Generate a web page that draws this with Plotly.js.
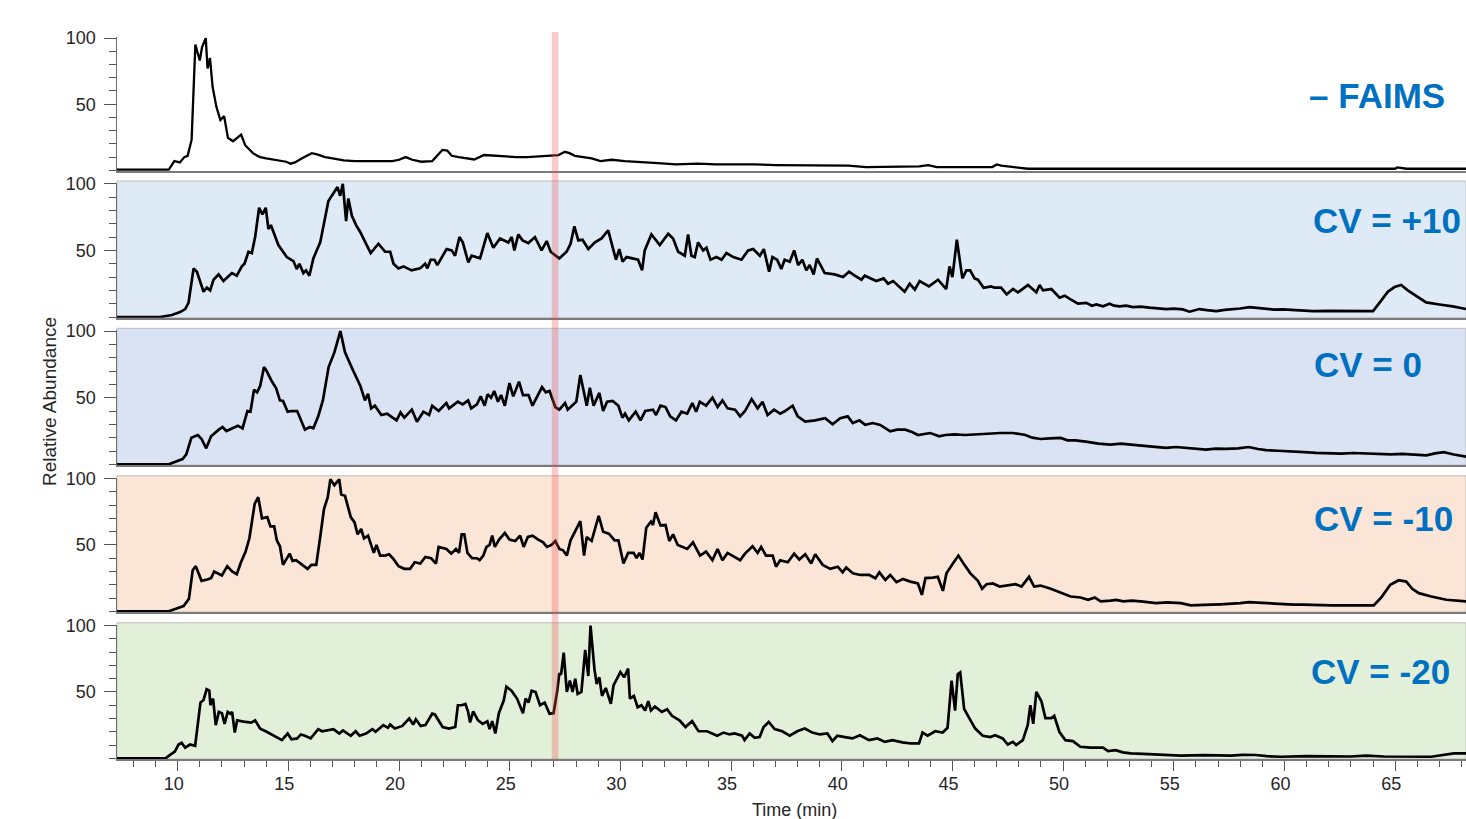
<!DOCTYPE html>
<html>
<head>
<meta charset="utf-8">
<script src="https://cdn.plot.ly/plotly-3.0.1.min.js"></script>
<style>html,body{margin:0;padding:0;background:#fff;}#chart{width:1466px;height:819px;}</style>
</head>
<body>
<div id="chart"></div>
<script>
// ---------- DATA (time in min, relative abundance in %) ----------
const panelLabels = ["\u2013 FAIMS", "CV = +10", "CV = 0", "CV = -10", "CV = -20"];

const tNoFaims = [7.26,9.6,9.85,10.1,10.3,10.45,10.63,10.8,11.0,11.1,11.27,11.35,11.46,11.58,11.75,11.93,12.1,12.27,12.5,12.87,13.05,13.4,13.6,13.73,14.0,14.2,14.43,14.7,14.9,15.1,15.3,15.6,15.85,16.06,16.3,16.5,16.66,17.0,17.5,18.0,18.5,19.0,19.25,19.7,20.0,20.3,20.6,21.0,21.5,21.96,22.18,22.38,22.7,23.0,23.4,23.84,24.3,24.8,25.3,25.8,26.3,26.86,27.2,27.5,27.7,27.95,28.3,28.7,29.1,29.6,30.2,30.8,31.2,31.7,32.5,33.5,34.3,35.1,36.0,37.0,37.7,38.5,39.5,40.3,41.1,43.0,43.5,43.9,44.3,45.3,46.8,47.0,47.2,47.5,48.4,65.0,65.1,65.5,68.2];
const aNoFaims = [0.5,0.5,7,6,10,11,23,95,83,93,100,77,85,63,48,38,41,24.6,22,27,19,13,11,10,9,8.5,7.6,7,6.5,5,6,9,11,13,12,11,10,9,7.6,7,7,6.5,6.5,7,8,10,8,6.5,7,15.4,15,11,10,9,8.2,11.6,11,10.5,10,10,10.5,11,11.5,14,13,11,10,9,7,8,7,6.5,6,5.5,4.5,5,4.5,4.7,4.5,4,4,3.5,3.7,3.5,2.5,2.5,3,4,2.5,2.5,2.5,4.5,3.5,3,1.2,1.2,2.2,1.2,1.2];

const tCvP10 = [7.26,9.2,9.74,10.11,10.34,10.49,10.72,10.87,11.17,11.32,11.47,11.62,11.85,12.07,12.45,12.67,12.9,13.02,13.2,13.35,13.5,13.68,13.83,13.98,14.1,14.21,14.55,14.93,15.23,15.38,15.5,15.68,15.8,15.95,16.13,16.44,16.81,17.04,17.22,17.34,17.46,17.61,17.71,17.87,18.06,18.24,18.47,18.72,19.07,19.37,19.6,19.75,19.97,20.2,20.57,20.95,21.18,21.28,21.43,21.6,21.73,22.15,22.38,22.53,22.73,22.88,23.13,23.28,23.66,23.99,24.26,24.56,24.94,25.09,25.21,25.39,25.58,25.84,26.14,26.44,26.67,26.85,27.24,27.57,27.75,27.92,28.1,28.29,28.55,28.85,29.15,29.45,29.8,29.95,30.1,30.28,30.8,30.98,31.1,31.4,31.78,32.16,32.38,32.61,32.91,33.06,33.21,33.36,33.51,33.74,33.89,34.07,34.34,34.57,34.79,35.1,35.47,35.77,36.0,36.3,36.48,36.72,36.87,37.08,37.27,37.42,37.65,37.85,38.03,38.22,38.4,38.55,38.73,38.88,39.23,39.68,40.06,40.33,40.59,40.89,41.04,41.56,41.89,42.09,42.32,42.62,42.84,43.07,43.3,43.52,43.94,44.35,44.72,44.87,45.0,45.2,45.45,45.63,45.8,46.0,46.15,46.41,46.75,46.9,47.2,47.45,47.74,47.96,48.41,48.79,48.94,49.09,49.47,49.84,50.07,50.3,50.67,51.05,51.3,51.5,51.8,52.1,52.3,52.55,52.85,53.15,53.5,53.9,54.3,54.66,55.0,55.41,55.71,56.16,56.5,56.92,57.3,57.67,58.0,58.42,58.8,59.17,59.5,59.93,60.3,60.68,61.28,62.0,62.6,63.3,64.0,64.29,64.67,64.97,65.27,65.57,65.95,66.4,67.0,67.6,68.2];
const aCvP10 = [0,0,1.5,3.7,6,10.6,36.5,34,19,22,20,28,32,27,33,31,38,40,49,48,60,82,77,82,66,69,54,45,42,36,40,33,35,31,44,56,87,93,97.5,91,100,72,89,76,69,64,56,48,55,49,49,40,36.5,38,35,36.5,40,36.5,43,43,39,51,50,46,60,56,41,46,44,63,52,59,56,60,50,62,57.5,55.5,60,50,57,49,44,49,55,68,57.5,58,51,56,59,65,43,51,41.5,45,43,35,50,62,54,62.5,59,49,46,62,46,45,56,50,52,43,45,43,48,45,43,50,51,46,51,34,45,43,36,43,41.5,50,39,43,35,39,32,44,33,32,30,34,31,28,31,27,29,25,27,22,19,25,20.5,27,23,28,21,38,30,58,29,35,35,29,28,22,23,22,22,17,21,18.5,24,18.5,24,20,21,14.5,16,13.6,10,10.6,8.5,9.4,8,10,8.5,8,8.6,7.4,7.8,7,6.2,6,6.3,5.7,4,6,5.2,4.4,5.4,5.7,6.4,7.4,6.6,6,5.6,5.7,5.3,5.2,4.4,4.6,4.4,4.2,4.4,10.6,19,22.5,24,20,16,11,9.4,8,6];

const tCv0 = [7.26,9.6,9.87,10.22,10.39,10.62,10.91,11.08,11.29,11.51,11.86,12.03,12.2,12.46,12.72,12.93,13.15,13.29,13.45,13.59,13.73,13.9,14.02,14.23,14.45,14.62,14.76,14.97,15.14,15.4,15.75,15.97,16.13,16.35,16.56,16.82,17.08,17.35,17.56,17.91,18.25,18.46,18.6,18.74,18.91,19.2,19.46,19.63,19.89,20.07,20.24,20.58,20.81,21.1,21.36,21.5,21.79,22.14,22.26,22.66,22.88,23.12,23.26,23.52,23.69,23.87,24.0,24.16,24.3,24.47,24.61,24.78,24.99,25.16,25.42,25.6,25.85,26.03,26.2,26.46,26.63,26.8,27.06,27.24,27.5,27.62,28.01,28.19,28.48,28.62,28.79,29.05,29.22,29.4,29.65,29.91,30.09,30.21,30.38,30.69,30.91,31.12,31.47,31.61,31.81,32.04,32.25,32.51,32.76,33.02,33.25,33.42,33.59,33.87,34.16,34.39,34.61,34.84,35.18,35.41,35.63,35.93,36.2,36.42,36.65,36.94,37.22,37.44,37.78,38.01,38.35,38.8,39.25,39.59,39.93,40.27,40.5,40.8,41.06,41.4,41.74,42.19,42.5,42.87,43.2,43.44,44.0,44.4,44.68,45.1,45.59,46.0,46.49,47.17,47.74,48.3,48.6,48.98,49.4,49.89,50.2,50.57,51.02,51.6,52.15,52.6,53.06,53.5,53.96,54.64,55.1,55.55,56.0,56.45,56.9,57.36,57.9,58.38,58.8,59.17,59.7,60.3,60.9,61.43,62.0,62.56,63.1,63.69,64.2,64.82,65.3,65.73,66.41,66.8,67.2,67.65,68.2];
const aCv0 = [0,0,1.7,4,7.4,20,22,19,12,21,26,28,25,27,29,27,40,39.5,56,54,59,73,70,63,57,48,47.6,39.5,40,40,26,28,27,36,48,73,84,100,84,71,59,48,53,42,44,37,38,36,33,39,35,41,32,39.5,37,44,40,46,42,47,45,48,42,45,51,44,52.6,50,55,47,52,44,61,51,62,52,52,44,50,58,54,55,43,41,46,41,47,67,44,57.5,44,53.6,40,47,47.6,44,35,38,33,39.5,33,40,41,37,44,43,36,33,39.5,38,46,39.5,47,44,50,43,48,42,41,36,40,49,42,47,37,41,38,40,44,36,32,33,34.6,30,34.6,36,31,33,29.6,31,29.6,24.7,26,26,24,22,23.5,21,22,22.5,22,22.5,23,23.5,23.5,22,20,19,19.5,19.8,18,18,17,15.5,14.8,15.5,14.8,14,13.6,12.3,13,12.3,11.5,11,11.8,11.6,12,13,11.5,10.6,10.2,9.9,9.2,8.6,8.4,8.1,8.5,8.1,7.8,7.4,7.8,7.4,6.7,8.2,9.1,7.4,5.7];

const tCvM10 = [7.26,9.6,9.79,10.05,10.27,10.51,10.68,10.82,11.08,11.34,11.51,11.65,12.0,12.24,12.46,12.67,12.86,13.07,13.24,13.36,13.48,13.64,13.81,14.05,14.19,14.36,14.48,14.62,14.76,15.06,15.19,15.35,15.57,15.87,16.04,16.26,16.44,16.61,16.78,16.9,17.08,17.3,17.39,17.56,17.82,17.99,18.13,18.29,18.42,18.6,18.86,18.98,19.15,19.37,19.55,19.72,19.98,20.24,20.5,20.71,20.96,21.19,21.45,21.67,21.79,22.14,22.36,22.57,22.71,22.83,22.95,23.09,23.3,23.52,23.64,23.81,23.95,24.09,24.21,24.33,24.52,24.78,24.99,25.25,25.47,25.63,25.82,26.03,26.29,26.51,26.68,26.89,27.06,27.24,27.41,27.58,27.75,28.19,28.36,28.48,28.7,29.02,29.22,29.48,29.74,29.91,30.14,30.35,30.6,30.73,30.86,31.0,31.17,31.38,31.47,31.59,31.81,32.04,32.21,32.38,32.59,32.85,33.02,33.28,33.6,33.87,34.16,34.39,34.61,34.84,35.13,35.41,35.63,35.97,36.2,36.36,36.58,36.88,37.03,37.22,37.56,37.85,38.08,38.35,38.62,38.8,39.14,39.48,39.82,40.04,40.2,40.5,40.84,41.24,41.52,41.7,41.97,42.19,42.47,42.76,43.1,43.44,43.62,43.78,44.12,44.34,44.57,44.73,45.02,45.27,45.54,45.81,46.15,46.34,46.54,46.83,47.13,47.51,47.85,48.12,48.46,48.69,48.98,49.44,49.89,50.34,50.79,51.13,51.43,51.7,52.15,52.4,52.72,53.1,53.51,53.9,54.19,54.7,55.32,55.77,56.2,56.68,57.1,57.58,58.0,58.38,58.9,59.39,59.9,60.41,60.86,61.5,62.11,62.8,63.5,64.03,64.37,64.78,65.16,65.5,65.77,66.07,66.63,67.31,68.2];
const aCvM10 = [0,0,1.2,3,4,9.5,31,34,23,24,25,30,27,34,30,28,37,45,55,68,81,86,70,71,64,64,53.5,49,35,43.5,38,38.5,36,32,35,35,56,77,86,99.5,95,99.5,88,87,71,67,58,62,55,57,44,50,42,42,43,40,34,32,32,37,36,41,40,36,48.5,47,43.5,47,44,58,58,44,40,40,38.5,42,48.5,50,57,48.5,54,59,54,53,57,48.5,56,57,54,52,48.5,50,53,47,46,42,53.5,68,42,56,53,72,60,58.5,53.5,53.5,36,44,44,40,44,39,63,67.6,65,74.6,64.7,65,53,58,50,48.5,47,52,42,45,38.5,47,38.5,44,41,38.5,43.5,49,44,48.5,42,42,33.6,38.5,37,43.5,39,43,36,43,35,32,33.6,29.4,33,28.6,27.4,27.4,25,29.4,23.6,27.4,22,24.4,22.4,21,12.4,25,25.4,26,15.4,28.6,36,42,35,28.6,23,17,20.4,21,18.7,19.4,20.4,18.7,26,18.7,19.4,17,14.4,11.2,10.4,8.7,10.4,7.5,8,8.6,7.5,8,7.5,6.8,6.2,6.8,6.2,4.5,5,5,5.3,5.5,6.2,7,6.4,6.2,5.4,5,5,4.6,4.5,4.5,4.5,4.5,10.4,20,23.4,22.4,17,13.7,11.2,8.7,7.5];

const tCvM20 = [7.26,9.45,9.61,9.87,10.04,10.18,10.34,10.56,10.79,11.03,11.17,11.31,11.43,11.48,11.6,11.72,11.86,12.0,12.12,12.26,12.38,12.46,12.58,12.69,13.07,13.33,13.5,13.73,14.02,14.36,14.71,14.97,15.14,15.4,15.57,15.75,16.01,16.35,16.52,17.04,17.3,17.47,17.82,18.04,18.22,18.51,18.8,18.94,19.29,19.5,19.6,19.81,20.15,20.46,20.64,20.76,20.98,21.19,21.5,21.62,21.84,21.97,22.26,22.54,22.66,22.83,23.0,23.12,23.21,23.35,23.57,23.78,23.99,24.09,24.21,24.35,24.51,24.73,24.85,25.08,25.33,25.6,25.72,25.85,25.99,26.17,26.37,26.58,26.8,26.98,27.15,27.24,27.32,27.44,27.58,27.72,27.84,27.96,28.07,28.24,28.41,28.55,28.65,28.83,28.93,29.05,29.17,29.34,29.57,29.69,30.0,30.17,30.35,30.43,30.61,30.78,30.95,31.12,31.26,31.38,31.56,31.87,32.11,32.33,32.67,32.94,33.24,33.53,33.92,34.37,34.66,34.93,35.16,35.5,35.61,35.84,36.07,36.29,36.47,36.7,36.97,37.31,37.65,37.99,38.33,38.67,39.01,39.35,39.58,39.8,40.14,40.48,40.82,41.23,41.61,41.95,42.29,42.74,43.13,43.49,43.65,43.88,44.22,44.56,44.78,44.96,45.12,45.24,45.35,45.53,45.76,46.03,46.37,46.71,46.93,47.27,47.5,47.73,47.88,48.18,48.4,48.52,48.65,48.79,49.02,49.2,49.47,49.6,49.83,50.1,50.44,50.78,51.23,51.8,52.03,52.37,52.7,53.05,53.6,54.18,54.7,55.31,56.4,57.57,58.1,58.7,59.2,59.84,61.0,62.1,63.0,63.69,64.5,66.63,67.0,67.65,68.2];
const aCvM20 = [0,0,2,5,10.4,11.7,8,10.4,9.5,42,44,52,51,40,45,25,35,34,26,35,33.6,35,19.4,28.6,27.4,26.9,28.6,22.4,20,17,13.7,18.7,14.4,15,18,17,15,22,20.4,22,18.7,21,17,20.4,17,18.7,22,20,25,23,25.4,22.4,24.4,30,25.4,29.4,24.4,25,33.6,33,27,23.6,22.4,23.6,40,40,41,35,27,35.3,28.6,26,28,22,28,18.7,34,43.5,54,51,45,34,45,42,51,50,40,42,33.6,34,51,64,63,79.6,50,58.5,50,60,48.5,50,81.6,62,100,67,56,61,47,53,41,55,65,61,67.6,45,47,38.5,40,36,43,36,39,35,37,32,28.6,23.6,28,20.4,20.4,17,19.4,18,18.7,17,13.7,18.7,15.4,16,23.6,27.4,22,20.4,17,20.4,22.4,19.4,18,18.7,13,17,16,15,17.4,13.7,15,12.4,13.7,12,11.2,11.2,19.4,17,20.4,19.4,23,58.5,36,63.4,64.7,37.3,30.3,22.4,17,16,17.4,15,10.4,12.4,10,13.7,25,40,26,50,43,30.3,30.3,32,20,13.7,13,8.7,8,8,5.5,6.2,4.5,3.7,3.4,3,2.6,2,2.4,2,2.6,2.5,1.6,1.2,1.6,1.2,1.4,2,1.4,1.2,2.2,3.7,3.7];

const bandStart = 26.9, bandEnd = 27.2;
const xTickStep = 5, xMinorStep = 1;
const yTickVals = [50, 100];

// ---------- LAYOUT HELPERS ----------
const FONT = "Liberation Sans, Arial, sans-serif";
const W = 1466, H = 819, ML = 117, MT = 37, MB = 60;
const PH = H - MT - MB;
const PW = W - ML;
const py = p => (H - MB - p) / PH;
const px = p => (p - ML) / PW;

const panelPx = [[37, 171], [182.7, 317.7], [330, 465], [477.5, 612], [624.5, 759]];
const panelFill = [null, "#deebf7", "#dae3f3", "#fbe5d6", "#e2f0d9"];
const labelPos = [[1447, 95], [1463, 220], [1424, 364], [1455, 518], [1452, 671]];

const times = [tNoFaims, tCvP10, tCv0, tCvM10, tCvM20];
const vals = [aNoFaims, aCvP10, aCv0, aCvM10, aCvM20];

const data = times.map((t, i) => ({
  x: t, y: vals[i], type: "scatter", mode: "lines",
  xaxis: i === 0 ? "x" : "x" + (i + 1),
  yaxis: i === 0 ? "y" : "y" + (i + 1),
  line: { color: "#000", width: i === 0 ? 2.3 : 2.7 },
  hoverinfo: "skip", showlegend: false
}));

const layout = {
  width: W, height: H,
  margin: { l: ML, r: 0, t: MT, b: MB, pad: 0 },
  paper_bgcolor: "#fff", plot_bgcolor: "rgba(0,0,0,0)",
  font: { family: FONT, size: 18, color: "#262626" },
  showlegend: false,
  shapes: [], annotations: []
};

for (let i = 0; i < 5; i++) {
  const s = i === 0 ? "" : String(i + 1);
  const dom = [py(panelPx[i][1]), py(panelPx[i][0])];
  layout["yaxis" + s] = {
    domain: dom, anchor: "x" + s, range: [-0.5, 100.8],
    tickmode: "array", tickvals: yTickVals, ticktext: yTickVals.map(String),
    ticks: "outside", ticklen: 12, tickwidth: 1, tickcolor: "#555",
    minor: { tickmode: "linear", tick0: 0, dtick: 10, ticks: "outside", ticklen: 7, tickwidth: 1, tickcolor: "#555" },
    showline: true, linecolor: "#6e6e6e", linewidth: 1.5,
    showgrid: false, zeroline: false, fixedrange: true,
    tickfont: { family: FONT, size: 18, color: "#262626" }, ticklabelstandoff: 4
  };
  const xa = {
    anchor: "y" + s, range: [7.26, 68.2],
    showline: true, linecolor: "#7a7a7a", linewidth: 2,
    showgrid: false, zeroline: false, fixedrange: true,
    showticklabels: false, ticks: ""
  };
  if (i > 0) xa.matches = "x";
  if (i === 4) {
    Object.assign(xa, {
      showticklabels: true, tickmode: "linear", tick0: 0, dtick: xTickStep,
      ticks: "outside", ticklen: 10, tickwidth: 1, tickcolor: "#555",
      minor: { tickmode: "linear", tick0: 0, dtick: xMinorStep, ticks: "outside", ticklen: 6, tickwidth: 1, tickcolor: "#555" },
      tickfont: { family: FONT, size: 18, color: "#262626" }, ticklabelshift: -4, ticklabelstandoff: -3
    });
  }
  layout["xaxis" + s] = xa;

  if (panelFill[i]) {
    layout.shapes.push({
      type: "rect", xref: "paper", yref: "paper", layer: "below",
      x0: 0, x1: 1, y0: dom[0], y1: py(panelPx[i][0] - 1.7),
      fillcolor: panelFill[i], line: { color: "#bdbdbd", width: 1 }
    });
  }
  layout.annotations.push({
    text: "<b>" + panelLabels[i] + "</b>", xref: "paper", yref: "paper",
    x: px(labelPos[i][0]), y: py(labelPos[i][1]), xanchor: "right", yanchor: "middle",
    showarrow: false, font: { family: FONT, size: 35, color: "#0070c0" }
  });
}

layout.shapes.push({
  type: "rect", xref: "x", yref: "paper", layer: "above",
  x0: bandStart, x1: bandEnd, y0: 0, y1: py(32),
  fillcolor: "rgba(240,80,80,0.30)", line: { width: 0 }
});

layout.annotations.push({
  text: "Relative Abundance", xref: "paper", yref: "paper",
  x: px(50), y: py(402), xanchor: "center", yanchor: "middle", textangle: -90,
  showarrow: false, font: { family: FONT, size: 19, color: "#262626" }
});
layout.annotations.push({
  text: "Time (min)", xref: "paper", yref: "paper",
  x: px(794), y: py(810), xanchor: "center", yanchor: "middle",
  showarrow: false, font: { family: FONT, size: 18, color: "#262626" }
});

Plotly.newPlot("chart", data, layout, { staticPlot: true, displayModeBar: false });
</script>
</body>
</html>
